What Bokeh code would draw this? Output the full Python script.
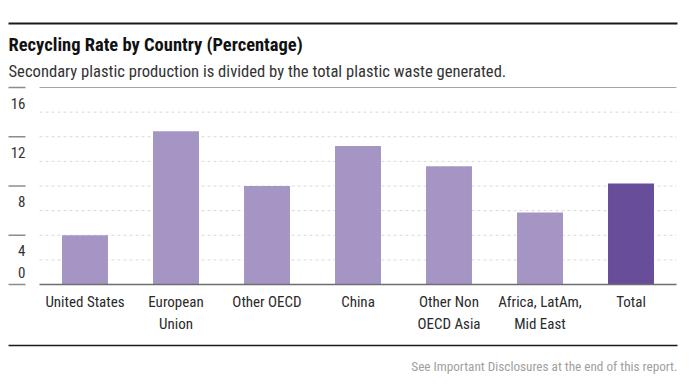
from bokeh.plotting import figure
from bokeh.models import ColumnDataSource, Range1d
from bokeh.core.properties import value
from bokeh.embed import file_html
from bokeh.resources import INLINE

# ---------------- data ----------------
categories = ["United States", "European\nUnion", "Other OECD", "China",
              "Other Non\nOECD Asia", "Africa, LatAm,\nMid East", "Total"]
rates = [4.0, 12.45, 8.0, 11.25, 9.6, 5.85, 8.2]
y_ticks = [0, 4, 8, 12, 16]
y_tick_labels = ["0", "4", "8", "12", "16"]
grid_values = [2, 4, 6, 8, 10, 12, 14]
title_text = "Recycling Rate by Country (Percentage)"
subtitle_text = "Secondary plastic production is divided by the total plastic waste generated."
footer_text = "See Important Disclosures at the end of this report."

# ---------------- layout (canvas pixels) ----------------
W, H = 682, 380
PL, PR = 39, 676          # plot area left/right
BASE, TOP = 284, 87       # y pixel of 0 and of 16
n = len(categories)
ppx = (PR - PL) / n
ppy = (BASE - TOP) / max(y_ticks)

def X(cx):
    return -0.5 + (cx - PL) / ppx

def Y(cy):
    return (BASE - cy) / ppy

FONT = "Roboto Condensed"
LIGHT = "#a595c4"
DARK = "#684d9b"

p = figure(width=W, height=H, x_range=Range1d(X(0), X(W)), y_range=Range1d(Y(H), Y(0)),
           output_backend="svg", toolbar_location=None, min_border=0,
           x_axis_type=None, y_axis_type=None)
p.grid.visible = False
p.outline_line_color = None
p.background_fill_color = "white"
p.border_fill_color = "white"

# dotted grid
p.segment(x0=[-0.5] * len(grid_values), x1=[n - 0.5] * len(grid_values),
          y0=grid_values, y1=grid_values, line_color="#d9d9d9", line_width=1, line_dash="3 3")

# bars
colors = [LIGHT] * (n - 1) + [DARK]
src = ColumnDataSource(dict(x=list(range(n)), top=rates, color=colors))
p.vbar(x="x", top="top", bottom=0, width=0.505, source=src, fill_color="color", line_color=None)

# top (16) line and baseline
p.segment(x0=[-0.5], x1=[n - 0.5], y0=[max(y_ticks)], y1=[max(y_ticks)], line_color="#a6a6a6", line_width=1.2)
p.segment(x0=[-0.5], x1=[n - 0.5], y0=[0], y1=[0], line_color="#6e6e6e", line_width=1.5)

# left tick marks
p.segment(x0=[X(8)] * len(y_ticks), x1=[X(25)] * len(y_ticks), y0=y_ticks, y1=y_ticks,
          line_color="#8c8c8c", line_width=1.6)

# y tick labels (below tick marks, zero above)
offs = [15.5 if v != 0 else -12 for v in y_ticks]
ysrc = ColumnDataSource(dict(x=[X(25)] * len(y_ticks), y=y_ticks, t=y_tick_labels, o=offs))
p.text(x="x", y="y", text="t", y_offset="o", source=ysrc, text_align="right",
       text_baseline="middle", text_font=value(FONT), text_font_size="15px", text_color="#333333")

# category labels
csrc = ColumnDataSource(dict(x=list(range(n)), y=[0] * n, t=categories))
p.text(x="x", y="y", text="t", source=csrc, y_offset=8.5, text_align="center", text_baseline="top",
       text_font=value(FONT), text_font_size="15px", text_color="#2a2a2a", text_line_height=1.22)

# header / footer rules
p.segment(x0=[X(8)], x1=[X(677)], y0=[Y(23)], y1=[Y(23)], line_color="#1a1a1a", line_width=2)
p.segment(x0=[X(8)], x1=[X(677)], y0=[Y(345)], y1=[Y(345)], line_color="#1a1a1a", line_width=1.5)

# title, subtitle, footer
p.text(x=[X(8)], y=[Y(44)], text=[title_text], text_font=value(FONT), text_font_style="bold",
       text_font_size="18.5px", text_color="#111111", text_baseline="middle", text_align="left")
p.text(x=[X(8)], y=[Y(71)], text=[subtitle_text], text_font=value(FONT),
       text_font_size="16.6px", text_color="#333333", text_baseline="middle", text_align="left")
p.text(x=[X(677)], y=[Y(366)], text=[footer_text], text_font=value(FONT),
       text_font_size="13.2px", text_color="#a0a0a0", text_baseline="middle", text_align="right")

open("out.html", "w").write(file_html(p, INLINE))
